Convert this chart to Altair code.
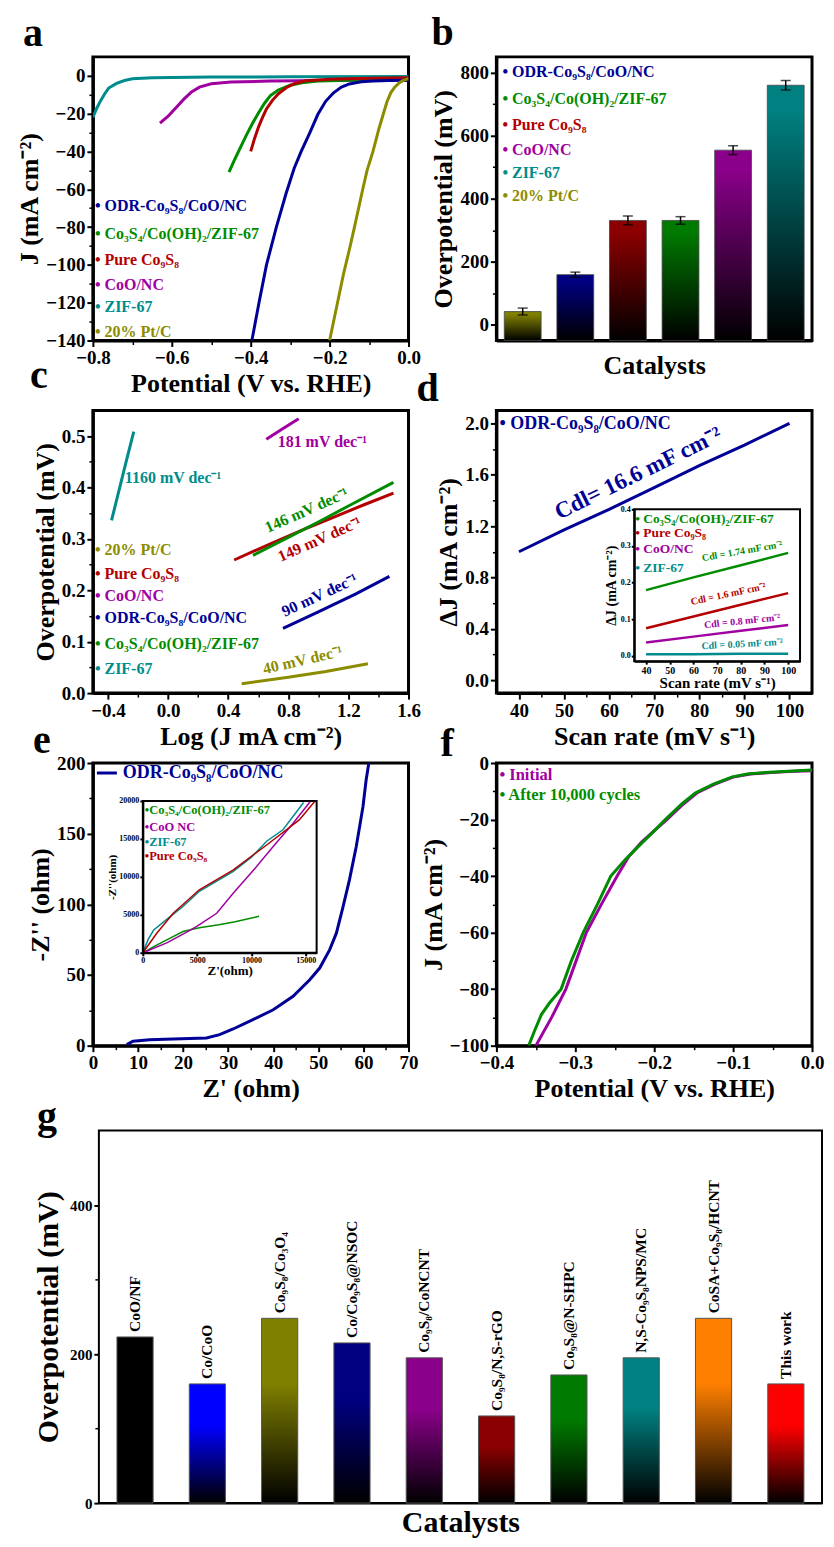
import altair as alt
import pandas as pd

FONT = "Liberation Serif"

BLUE = "#000096"
GREEN = "#008c00"
RED = "#b40000"
MAG = "#a000a0"
TEAL = "#008c8c"
OLIVE = "#8c8c00"

W = 316
H1, H2, H3 = 284, 283, 283
GW, GH, GTOP, GLEFT = 730, 388, 15, 6

# ---------------- panel a : polarisation curves ----------------
a_zif_x = [-0.8, -0.79, -0.78, -0.77, -0.76, -0.74, -0.72, -0.70, -0.65, -0.5, -0.3, 0.0]
a_zif_y = [-22, -17, -13, -9.5, -6.5, -4, -2.5, -1.6, -1.0, -0.7, -0.5, -0.4]
a_coo_x = [-0.63, -0.61, -0.59, -0.57, -0.55, -0.53, -0.5, -0.45, -0.35, -0.2, 0.0]
a_coo_y = [-25, -21.5, -17, -12.5, -8.5, -6, -4.2, -3.3, -2.8, -2.5, -2.2]
a_co3_x = [-0.455, -0.44, -0.425, -0.41, -0.395, -0.38, -0.365, -0.35, -0.33, -0.30, -0.27, -0.23, -0.15, 0.0]
a_co3_y = [-51, -44, -37.5, -31, -25, -19.5, -14.5, -10.5, -7.5, -5, -3.7, -2.8, -2.3, -2]
a_pure_x = [-0.40, -0.39, -0.38, -0.37, -0.36, -0.345, -0.33, -0.31, -0.29, -0.26, -0.2, -0.1, 0.0]
a_pure_y = [-40, -33, -27, -22, -17.5, -13, -9.5, -6.3, -4.2, -2.6, -1.8, -1.3, -1.0]
a_odr_x = [-0.397, -0.379, -0.36, -0.335, -0.31, -0.29, -0.272, -0.25, -0.23, -0.21, -0.19, -0.17, -0.15, -0.12, -0.09, -0.05, 0.0]
a_odr_y = [-140, -120, -100, -80, -62, -49, -40, -30, -20.5, -13.5, -9, -6, -4.3, -3.2, -2.7, -2.5, -2.4]
a_pt_x = [-0.200, -0.18, -0.165, -0.15, -0.137, -0.116, -0.105, -0.09, -0.075, -0.065, -0.055, -0.045, -0.035, -0.025, -0.015, 0.0]
a_pt_y = [-140, -120, -105, -92, -80, -60, -50, -40, -28, -21, -14, -9, -6, -4, -2.6, -1.5]
a_legend = ["• ODR-Co₉S₈/CoO/NC", "• Co₃S₄/Co(OH)₂/ZIF-67", "• Pure Co₉S₈", "• CoO/NC", "• ZIF-67", "• 20% Pt/C"]
a_legend_colors = [BLUE, GREEN, RED, MAG, TEAL, OLIVE]

# ---------------- panel b : overpotential bars ----------------
b_cats = ["20% Pt/C", "ODR-Co₉S₈/CoO/NC", "Pure Co₉S₈", "Co₃S₄/Co(OH)₂/ZIF-67", "CoO/NC", "ZIF-67"]
b_vals = [42, 159, 331, 331, 554, 760]
b_errs = [11, 8, 14, 12, 14, 15]
b_colors = ["#808000", "#000080", "#8b0000", "#007a00", "#8b008b", "#008080"]
b_legend = ["• ODR-Co₉S₈/CoO/NC", "• Co₃S₄/Co(OH)₂/ZIF-67", "• Pure Co₉S₈", "• CoO/NC", "• ZIF-67", "• 20% Pt/C"]
b_legend_colors = [BLUE, GREEN, RED, MAG, TEAL, OLIVE]

# ---------------- panel c : Tafel plots ----------------
c_zif_x = [-0.376, -0.33, -0.28, -0.228]
c_zif_y = [0.336, 0.39, 0.449, 0.509]
c_coo_x = [0.654, 0.76, 0.869]
c_coo_y = [0.494, 0.514, 0.534]
c_pure_x = [0.44, 0.7, 0.9, 1.1, 1.3, 1.5]
c_pure_y = [0.259, 0.293, 0.318, 0.342, 0.366, 0.389]
c_co3_x = [0.565, 0.8, 1.0, 1.2, 1.5]
c_co3_y = [0.268, 0.303, 0.333, 0.364, 0.410]
c_odr_x = [0.765, 1.0, 1.25, 1.473]
c_odr_y = [0.126, 0.158, 0.193, 0.227]
c_pt_x = [0.49, 0.8, 1.05, 1.33]
c_pt_y = [0.018, 0.031, 0.042, 0.057]
c_legend = ["• 20% Pt/C", "• Pure Co₉S₈", "• CoO/NC", "• ODR-Co₉S₈/CoO/NC", "• Co₃S₄/Co(OH)₂/ZIF-67", "• ZIF-67"]
c_legend_colors = [OLIVE, RED, MAG, BLUE, GREEN, TEAL]

# ---------------- panel d : double-layer capacitance ----------------
d_scan = [40, 50, 60, 70, 80, 90, 100]
d_odr = [1.00, 1.17, 1.33, 1.50, 1.67, 1.83, 2.00]
d_in_scan = [40, 60, 80, 100]
d_in_co3 = [0.179, 0.214, 0.247, 0.281]
d_in_pure = [0.075, 0.107, 0.139, 0.171]
d_in_coo = [0.036, 0.052, 0.068, 0.084]
d_in_zif = [0.004, 0.004, 0.005, 0.005]

# ---------------- panel e : Nyquist plots ----------------
e_odr_re = [7.5, 8.9, 12.6, 17.8, 25.2, 28.1, 31.1, 35.5, 40.0, 44.4, 48.1, 50.3, 52.5, 54.0, 55.5, 56.9, 58.4, 59.9, 60.6, 61.2]
e_odr_im = [0.7, 3.1, 4.2, 4.7, 5.4, 7.8, 11.8, 18.4, 25.4, 34.9, 46.6, 54.9, 67.8, 79.6, 98.6, 117.3, 140.8, 169.1, 188, 200]
e_co3_re = [0, 1000, 2200, 3700, 5200, 7000, 8500, 10700]
e_co3_im = [0, 800, 1700, 2800, 3300, 3700, 4100, 4800]
e_coo_re = [0, 2200, 4000, 5000, 6800, 8300, 10200, 12000, 13800, 15400]
e_coo_im = [0, 1300, 2700, 3500, 5200, 7800, 10900, 14000, 17000, 19900]
e_zif_re = [0, 500, 1000, 2200, 3700, 5200, 8300, 10000, 11400, 12900, 14800]
e_zif_im = [0, 1800, 3000, 4400, 6100, 8100, 10700, 12600, 14700, 16200, 19800]
e_pure_re = [0, 1300, 2800, 5200, 8300, 11400, 14400, 15800]
e_pure_im = [0, 2600, 5200, 8300, 10900, 14200, 17500, 19900]

# ---------------- panel f : stability ----------------
f_ini_x = [-0.350, -0.330, -0.312, -0.299, -0.286, -0.267, -0.247, -0.232, -0.216, -0.198, -0.184, -0.163, -0.146, -0.123, -0.100, -0.078, -0.052, -0.03, 0.0]
f_ini_y = [-100, -90, -80, -70, -60, -50, -40, -33, -28, -23.5, -20, -14.5, -10.6, -7.5, -5, -3.9, -3.4, -3, -2.7]
f_aft_x = [-0.359, -0.352, -0.343, -0.333, -0.318, -0.305, -0.29, -0.272, -0.255, -0.236, -0.22, -0.2, -0.186, -0.165, -0.148, -0.125, -0.101, -0.08, -0.054, -0.03, 0.0]
f_aft_y = [-100, -95, -89, -85, -80, -70, -60, -50, -40, -34, -29.5, -24, -20, -14.5, -10.6, -7.5, -4.9, -3.8, -3.3, -2.9, -2.5]

# ---------------- panel g : comparison ----------------
g_cats = ["CoO/NF", "Co/CoO", "Co₉S₈/Co₃O₄", "Co/Co₉S₈@NSOC", "Co₉S₈/CoNCNT", "Co₉S₈/N,S-rGO",
          "Co₉S₈@N-SHPC", "N,S-Co₉S₈NPS/MC", "CoSA+Co₉S₈/HCNT", "This work"]
g_vals = [223, 160, 248, 215, 195, 117, 172, 195, 248, 160]
g_colors = ["#000000", "#0000ff", "#808000", "#000080", "#8b008b", "#8b0000", "#007a00", "#008080", "#ff8000", "#ff0000"]


# ================= helpers =================
def txt(text, x, y, color="black", size=16, angle=0, align="left", baseline="middle"):
    return alt.Chart(pd.DataFrame({"t": [text]})).mark_text(
        align=align, baseline=baseline, font=FONT, fontWeight="bold",
        fontSize=size, color=color, angle=angle % 360
    ).encode(x=alt.value(x), y=alt.value(y), text="t:N")


def letter(ch, x, y):
    return txt(ch, x, y, size=40, baseline="alphabetic")


def lines(series, xs_scale, ys_scale, xaxis, yaxis, width=3, xf="x", yf="y"):
    out = []
    for xs, ys, col in series:
        df = pd.DataFrame({xf: xs, yf: ys, "o": list(range(len(xs)))})
        out.append(alt.Chart(df).mark_line(color=col, strokeWidth=width, clip=True).encode(
            x=alt.X(f"{xf}:Q", scale=xs_scale, axis=xaxis),
            y=alt.Y(f"{yf}:Q", scale=ys_scale, axis=yaxis),
            order="o:Q"))
    return out


def legend(labels, colors, x, ys, size=16):
    return [txt(l, x, yy, color=c, size=size) for l, c, yy in zip(labels, colors, ys)]


def grad(c, mid):
    return alt.LinearGradient(
        gradient="linear", x1=0, x2=0, y1=0, y2=1,
        stops=[alt.GradientStop(color=c, offset=0), alt.GradientStop(color=c, offset=mid),
               alt.GradientStop(color="black", offset=1)])


def box(x1, x2, y1, y2, fill="white", width=2):
    return alt.Chart(pd.DataFrame({"k": [0]})).mark_rect(
        fill=fill, stroke="black", strokeWidth=width).encode(
        x=alt.value(x1), x2=alt.value(x2), y=alt.value(y1), y2=alt.value(y2))


def minor_axis(vals, orient, offset=0):
    return alt.Axis(orient=orient, values=vals, labels=False, domain=False, tickSize=4,
                    tickWidth=1.5, title="", offset=offset)


def minor(xvals=None, xdom=None, yvals=None, ydom=None, yrange=None, yoffset=0):
    """invisible layer that only carries the minor-tick axes"""
    row = {}
    enc = {}
    if xvals is not None:
        row["xm"] = [xdom[0]]
        enc["x"] = alt.X("xm:Q", scale=alt.Scale(domain=xdom, nice=False),
                         axis=minor_axis(xvals, "bottom"))
    if yvals is not None:
        row["ym"] = [ydom[0]]
        sc = alt.Scale(domain=ydom, nice=False) if yrange is None else \
            alt.Scale(domain=ydom, range=yrange, nice=False)
        enc["y"] = alt.Y("ym:Q", scale=sc, axis=minor_axis(yvals, "left", yoffset))
    return alt.Chart(pd.DataFrame(row)).mark_point(opacity=0).encode(**enc)


# ================= panel a =================
xa = alt.Scale(domain=[-0.8, 0.0], nice=False)
ya = alt.Scale(domain=[-140, 10], nice=False)
axa_x = alt.Axis(values=[-0.8, -0.6, -0.4, -0.2, 0.0], format=".1f", title="Potential (V vs. RHE)")
axa_y = alt.Axis(values=list(range(-140, 1, 20)), title="J (mA cm⁻²)")
a_layers = lines([(a_zif_x, a_zif_y, TEAL), (a_coo_x, a_coo_y, MAG), (a_co3_x, a_co3_y, GREEN),
                  (a_pure_x, a_pure_y, RED), (a_odr_x, a_odr_y, BLUE), (a_pt_x, a_pt_y, OLIVE)],
                 xa, ya, axa_x, axa_y)
a_texts = legend(a_legend, a_legend_colors, 2, [149, 177, 203, 228, 250, 275])
a_texts.append(letter("a", -70, -11))
panel_a = alt.layer(alt.layer(*a_layers),
                    minor([-0.7, -0.5, -0.3, -0.1], [-0.8, 0.0], list(range(-130, 0, 20)), [-140, 10]),
                    *a_texts).resolve_scale(x="independent", y="independent").properties(width=W, height=H1)

# ================= panel b =================
b_df = pd.DataFrame({"cat": b_cats, "v": b_vals,
                     "lo": [v - e for v, e in zip(b_vals, b_errs)],
                     "hi": [v + e for v, e in zip(b_vals, b_errs)]})
xb = alt.X("cat:N", scale=alt.Scale(domain=b_cats, paddingInner=0.3, paddingOuter=0.15),
           axis=alt.Axis(labels=False, ticks=False, title="Catalysts", titlePadding=12))
yb = alt.Scale(domain=[-50, 850], nice=False)
axb_y = alt.Axis(values=[0, 200, 400, 600, 800], title="Overpotential (mV)")
b_layers = []
for cat, col in zip(b_cats, b_colors):
    b_layers.append(alt.Chart(b_df).transform_filter(alt.FieldEqualPredicate(field="cat", equal=cat))
                    .mark_bar(fill=grad(col, 0.1), stroke="#444444", strokeWidth=0.8)
                    .encode(x=xb, y=alt.Y("v:Q", scale=yb, axis=axb_y), y2=alt.datum(-50)))
b_layers.append(alt.Chart(b_df).mark_rule(color="black", strokeWidth=1.5).encode(
    x=xb, y=alt.Y("lo:Q", scale=yb, axis=axb_y), y2="hi:Q"))
for f in ["lo", "hi"]:
    b_layers.append(alt.Chart(b_df).mark_tick(color="black", thickness=1.5, size=10).encode(
        x=xb, y=alt.Y(f"{f}:Q", scale=yb, axis=axb_y)))
b_texts = legend(b_legend, b_legend_colors, 6, [15, 42, 68, 93, 116, 139])
b_texts.append(letter("b", -65, -12))
panel_b = alt.layer(alt.layer(*b_layers), minor(yvals=[100, 300, 500, 700], ydom=[-50, 850]),
                    *b_texts).resolve_scale(y="independent").properties(width=W, height=H1)

# ================= panel c =================
xc = alt.Scale(domain=[-0.5, 1.6], nice=False)
yc = alt.Scale(domain=[0, 0.55], nice=False)
axc_x = alt.Axis(values=[-0.4, 0.0, 0.4, 0.8, 1.2, 1.6], format=".1f", title="Log (J mA cm⁻²)")
axc_y = alt.Axis(values=[0, 0.1, 0.2, 0.3, 0.4, 0.5], format=".1f", title="Overpotential (mV)")
c_layers = lines([(c_zif_x, c_zif_y, TEAL), (c_coo_x, c_coo_y, MAG), (c_pure_x, c_pure_y, RED),
                  (c_co3_x, c_co3_y, GREEN), (c_odr_x, c_odr_y, BLUE), (c_pt_x, c_pt_y, OLIVE)],
                 xc, yc, axc_x, axc_y)
c_texts = legend(c_legend, c_legend_colors, 2, [140, 164, 186, 208, 234, 259])
c_texts += [
    txt("1160 mV dec⁻¹", 32, 68, TEAL, 16),
    txt("181 mV dec⁻¹", 185, 32, MAG, 16),
    txt("146 mV dec⁻¹", 214, 100, GREEN, 16, angle=-24, align="center"),
    txt("149 mV dec⁻¹", 227, 129, RED, 16, angle=-24, align="center"),
    txt("90 mV dec⁻¹", 227, 185, BLUE, 16, angle=-25, align="center"),
    txt("40 mV dec⁻¹", 210, 250, OLIVE, 16, angle=-13, align="center"),
    letter("c", -63, -22),
]
panel_c = alt.layer(alt.layer(*c_layers),
                    minor([-0.2, 0.2, 0.6, 1.0, 1.4], [-0.5, 1.6],
                          [0.05, 0.15, 0.25, 0.35, 0.45], [0, 0.55]),
                    *c_texts).resolve_scale(x="independent", y="independent").properties(width=W, height=H2)

# ================= panel d =================
xd = alt.Scale(domain=[35, 105], nice=False)
yd = alt.Scale(domain=[-0.1, 2.1], nice=False)
axd_x = alt.Axis(values=d_scan, title="Scan rate (mV s⁻¹)")
axd_y = alt.Axis(values=[0, 0.4, 0.8, 1.2, 1.6, 2.0], format=".1f", title="ΔJ (mA cm⁻²)")
d_main = alt.layer(*lines([(d_scan, d_odr, BLUE)], xd, yd, axd_x, axd_y))

IX1, IX2, IY1, IY2 = 138, 304, 99, 251
xdi = alt.Scale(domain=[35, 105], range=[IX1, IX2], nice=False)
ydi = alt.Scale(domain=[-0.015, 0.4], range=[IY2, IY1], nice=False)
axdi_x = alt.Axis(orient="bottom", offset=-(H2 - IY2), values=[40, 50, 60, 70, 80, 90, 100],
                  labelFontSize=10, title="Scan rate (mV s⁻¹)", titleFontSize=15, titlePadding=0,
                  tickSize=3, domainWidth=2, labelPadding=1, zindex=1)
axdi_y = alt.Axis(orient="left", offset=-IX1, values=[0, 0.1, 0.2, 0.3, 0.4], format=".1f",
                  labelFontSize=8, title="ΔJ (mA cm⁻²)", titleFontSize=14, titlePadding=2,
                  tickSize=3, domainWidth=2, labelPadding=1, zindex=1)
d_inset = alt.layer(box(IX1, IX2, IY1, IY2),
                    *lines([(d_in_scan, d_in_co3, GREEN), (d_in_scan, d_in_pure, RED),
                            (d_in_scan, d_in_coo, MAG), (d_in_scan, d_in_zif, TEAL)],
                           xdi, ydi, axdi_x, axdi_y, width=2.5, xf="xi", yf="yi"))
d_texts = [
    txt("• ODR-Co₉S₈/CoO/NC", 3, 14, BLUE, 18),
    txt("Cdl= 16.6 mF cm⁻²", 142, 63, BLUE, 23, angle=-26, align="center"),
    txt("• Co₃S₄/Co(OH)₂/ZIF-67", 139, 109, GREEN, 13.5),
    txt("• Pure Co₉S₈", 139, 123, RED, 13.5),
    txt("• CoO/NC", 139, 139, MAG, 13.5),
    txt("• ZIF-67", 139, 158, TEAL, 13.5),
    txt("Cdl = 1.74 mF cm⁻²", 246, 141, GREEN, 10, angle=-10, align="center"),
    txt("Cdl = 1.6 mF cm⁻²", 232, 184, RED, 10, angle=-12, align="center"),
    txt("Cdl = 0.8 mF cm⁻²", 246, 211, MAG, 10, angle=-6, align="center"),
    txt("Cdl = 0.05 mF cm⁻²", 246, 234, TEAL, 10, angle=-3, align="center"),
    letter("d", -80, -9),
]
panel_d = alt.layer(d_main,
                    minor([45, 55, 65, 75, 85, 95], [35, 105], [0.2, 0.6, 1.0, 1.4, 1.8], [-0.1, 2.1]),
                    d_inset, *d_texts).resolve_scale(
    x="independent", y="independent").properties(width=W, height=H2)

# ================= panel e =================
xe = alt.Scale(domain=[0, 70], nice=False)
ye = alt.Scale(domain=[0, 200], nice=False)
axe_x = alt.Axis(values=[0, 10, 20, 30, 40, 50, 60, 70], title="Z' (ohm)")
axe_y = alt.Axis(values=[0, 50, 100, 150, 200], title="-Z'' (ohm)")
e_main = alt.layer(*lines([(e_odr_re, e_odr_im, BLUE)], xe, ye, axe_x, axe_y))

EX1, EX2, EY1, EY2 = 50, 224, 38, 190
xei = alt.Scale(domain=[0, 16000], range=[EX1, EX2], nice=False)
yei = alt.Scale(domain=[0, 20000], range=[EY2, EY1], nice=False)
axei_x = alt.Axis(orient="bottom", offset=-(H3 - EY2), values=[0, 5000, 10000, 15000], format="d",
                  labelFontSize=8, title="Z'(ohm)", titleFontSize=13, titlePadding=0,
                  tickSize=3, domainWidth=2, labelPadding=1, zindex=1)
axei_y = alt.Axis(orient="left", offset=-EX1, values=[0, 5000, 10000, 15000, 20000], format="d",
                  labelFontSize=8, title="-Z''(ohm)", titleFontSize=11, titlePadding=1,
                  tickSize=3, domainWidth=2, labelPadding=1, zindex=1)
e_inset = alt.layer(box(EX1, EX2, EY1, EY2),
                    *lines([(e_co3_re, e_co3_im, GREEN), (e_coo_re, e_coo_im, MAG),
                            (e_zif_re, e_zif_im, TEAL), (e_pure_re, e_pure_im, RED)],
                           xei, yei, axei_x, axei_y, width=1.5, xf="xi", yf="yi"))
e_texts = [
    alt.Chart(pd.DataFrame({"k": [0]})).mark_rule(color=BLUE, strokeWidth=3).encode(
        x=alt.value(4), x2=alt.value(24), y=alt.value(10)),
    txt("ODR-Co₉S₈/CoO/NC", 30, 10, BLUE, 18),
    txt("•Co₃S₄/Co(OH)₂/ZIF-67", 52, 47, GREEN, 12.5),
    txt("•CoO NC", 52, 64, MAG, 12.5),
    txt("•ZIF-67", 52, 79, TEAL, 12.5),
    txt("•Pure Co₉S₈", 52, 93, RED, 12.5),
    letter("e", -60, -10),
]
panel_e = alt.layer(e_main,
                    minor([5, 15, 25, 35, 45, 55, 65], [0, 70], [25, 75, 125, 175], [0, 200]),
                    e_inset, *e_texts).resolve_scale(
    x="independent", y="independent").properties(width=W, height=H3)

# ================= panel f =================
xf_ = alt.Scale(domain=[-0.4, 0.0], nice=False)
yf_ = alt.Scale(domain=[-100, 0], nice=False)
axf_x = alt.Axis(values=[-0.4, -0.3, -0.2, -0.1, 0.0], format=".1f", title="Potential (V vs. RHE)")
axf_y = alt.Axis(values=[-100, -80, -60, -40, -20, 0], title="J (mA cm⁻²)")
f_layers = lines([(f_ini_x, f_ini_y, MAG), (f_aft_x, f_aft_y, GREEN)], xf_, yf_, axf_x, axf_y)
f_texts = [txt("• Initial", 3, 12, MAG, 16.5), txt("• After 10,000 cycles", 3, 32, GREEN, 16.5),
           letter("f", -56, -7)]
panel_f = alt.layer(alt.layer(*f_layers),
                    minor([-0.35, -0.25, -0.15, -0.05], [-0.4, 0.0], list(range(-90, 0, 20)), [-100, 0]),
                    *f_texts).resolve_scale(x="independent", y="independent").properties(width=W, height=H3)

# ================= panel g =================
g_df = pd.DataFrame({"cat": g_cats, "v": g_vals})
xg = alt.X("cat:N", scale=alt.Scale(domain=g_cats, range=[GLEFT, GW], paddingInner=0.5, paddingOuter=0.25),
           axis=alt.Axis(labels=False, ticks=False, title="Catalysts", titleFontSize=30,
                         titlePadding=4, domainWidth=2))
yg = alt.Scale(domain=[0, 500], range=[GH, GTOP], nice=False)
axg_y = alt.Axis(values=[0, 200, 400], labelFontSize=15, title="Overpotential (mV)",
                 titleFontSize=30, domainWidth=2, tickSize=5, offset=-GLEFT, titlePadding=6)
g_layers = [box(GLEFT, GW, GTOP, GH, fill="white", width=2)]
for cat, col in zip(g_cats, g_colors):
    g_layers.append(alt.Chart(g_df).transform_filter(alt.FieldEqualPredicate(field="cat", equal=cat))
                    .mark_bar(fill=grad(col, 0.35), stroke="#555555", strokeWidth=1)
                    .encode(x=xg, y=alt.Y("v:Q", scale=yg, axis=axg_y), y2=alt.datum(0)))
g_layers.append(alt.Chart(g_df).mark_text(angle=270, align="left", baseline="middle", dx=5,
                                          font=FONT, fontWeight="bold", fontSize=15.5, color="black")
                .encode(x=xg, y=alt.Y("v:Q", scale=yg, axis=axg_y), text="cat:N"))
g_texts = [letter("g", -56, GTOP - 2)]
# layout width kept small (flush bounds); the band scale range spreads the bars over GW pixels
panel_g = alt.layer(alt.layer(*g_layers),
                    minor(yvals=[100, 300], ydom=[0, 500], yrange=[GH, GTOP], yoffset=-GLEFT),
                    *g_texts).resolve_scale(y="independent").properties(
    width=W, height=GH, view=alt.ViewBackground(strokeOpacity=0))

chart = alt.concat(panel_a, panel_b, panel_c, panel_d, panel_e, panel_f, panel_g,
                   columns=2, spacing={"row": 70, "column": 88}, bounds="flush", align="none"
                   ).properties(padding={"left": 7, "top": 2, "right": 0, "bottom": 0}
                   ).configure(font=FONT
                   ).configure_axis(
    labelFont=FONT, labelFontWeight="bold", labelFontSize=19, labelColor="black",
    titleFont=FONT, titleFontWeight="bold", titleFontSize=26, titleColor="black",
    domainColor="black", domainWidth=3, tickColor="black", tickWidth=2, tickSize=6,
    grid=False, labelPadding=2, titlePadding=3, labelFlush=False, labelOverlap=False
).configure_view(stroke="black", strokeWidth=3)

chart.save("out.html", embed_options={"renderer": "svg", "actions": False})
